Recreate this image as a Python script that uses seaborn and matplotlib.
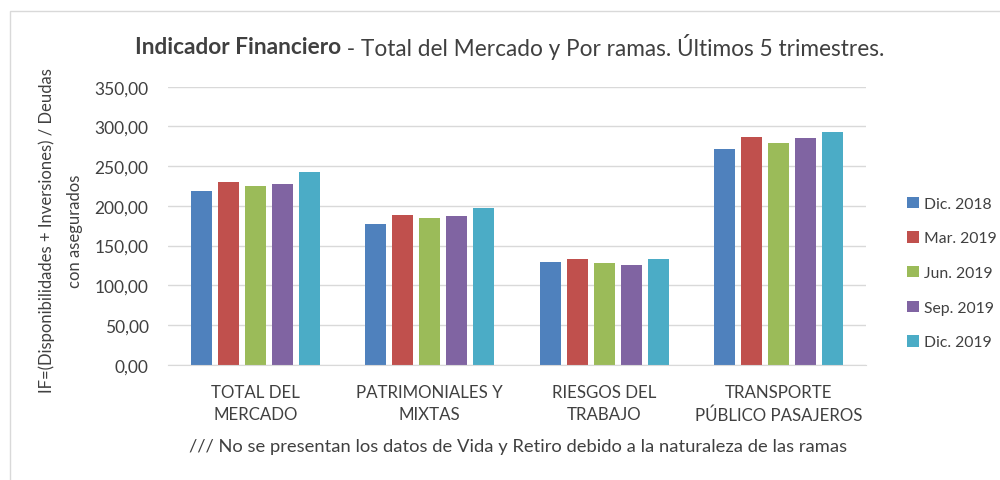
import pandas as pd
import seaborn as sns
from matplotlib import pyplot as plt
from matplotlib.patches import Rectangle

# data
ramas = ['TOTAL DEL\nMERCADO', 'PATRIMONIALES Y\nMIXTAS', 'RIESGOS DEL\nTRABAJO', 'TRANSPORTE\nPÚBLICO PASAJEROS']
trimestres = ['Dic. 2018', 'Mar. 2019', 'Jun. 2019', 'Sep. 2019', 'Dic. 2019']
dic_2018 = [218.5, 177.5, 129.3, 271.8]
mar_2019 = [230.4, 188.0, 133.6, 286.5]
jun_2019 = [225.6, 185.0, 128.2, 279.5]
sep_2019 = [227.9, 187.0, 125.3, 285.6]
dic_2019 = [242.5, 197.2, 132.8, 292.5]
colores = ['#4F81BD', '#C0504D', '#9BBB59', '#8064A2', '#4BACC6']

series = [dic_2018, mar_2019, jun_2019, sep_2019, dic_2019]
rows = []
for trim, vals in zip(trimestres, series):
    for rama, v in zip(ramas, vals):
        rows.append({'rama': rama, 'trimestre': trim, 'valor': v})
df = pd.DataFrame(rows)

sns.set_style('white')
plt.rcParams['font.family'] = ['Lato', 'DejaVu Sans']
txt = '#404040'

fig = plt.figure(figsize=(10, 4.81), dpi=100)
ax = fig.add_axes([0.168, 1 - 365.7 / 481, 0.698, (365.7 - 87.7) / 481])

sns.barplot(data=df, x='rama', y='valor', hue='trimestre', hue_order=trimestres,
            order=ramas, palette=colores, width=0.774, gap=0.22, ax=ax,
            saturation=1, linewidth=0)

ax.set_ylim(0, 350)
ax.set_yticks(range(0, 351, 50))
ax.set_yticklabels([f'{v:.2f}'.replace('.', ',') for v in range(0, 351, 50)],
                   fontsize=12.5, color=txt)
ax.tick_params(axis='x', labelsize=12.2, labelcolor=txt, length=0, pad=14)
ax.tick_params(axis='y', length=0, pad=14)
for lbl in ax.get_xticklabels():
    lbl.set_linespacing(1.45)
ax.yaxis.grid(True, color='#d9d9d9', lw=1)
ax.set_axisbelow(True)
for s in ['top', 'right', 'left']:
    ax.spines[s].set_visible(False)
ax.spines['bottom'].set_color('#d9d9d9')
ax.set_xlabel('')
ax.set_ylabel('')

ax.legend(loc='center left', bbox_to_anchor=(893 / 1000, 1 - 274 / 481),
          bbox_transform=fig.transFigure, frameon=False, fontsize=11.3,
          handlelength=0.75, handleheight=0.75, handletextpad=0.3,
          labelspacing=1.3, labelcolor=txt)

# y label in two lines
fig.text(47 / 1000, 1 - 231 / 481, 'IF=(Disponibilidades + Inversiones) / Deudas',
         rotation=90, ha='center', va='center', fontsize=12, color=txt)
fig.text(75 / 1000, 1 - 231 / 481, 'con asegurados',
         rotation=90, ha='center', va='center', fontsize=12, color=txt)

# title: bold part then regular part
t1 = fig.text(135 / 1000, 1 - 47 / 481, 'Indicador Financiero', fontsize=16.3,
              fontweight='bold', color=txt, va='center', ha='left')
fig.canvas.draw()
bb = t1.get_window_extent()
fig.text(bb.x1 / 1000, 1 - 47 / 481, ' - Total del Mercado y Por ramas. Últimos 5 trimestres.',
         fontsize=16.3, color=txt, va='center', ha='left')

fig.text(518 / 1000, 1 - 447 / 481,
         '/// No se presentan los datos de Vida y Retiro debido a la naturaleza de las ramas',
         fontsize=13.2, color=txt, ha='center', va='center')

# chart area border
fig.patches.append(Rectangle((10 / 1000, -0.1), 1.2, 1 - 12 / 481 + 0.1,
                             transform=fig.transFigure, fill=False,
                             edgecolor='#d9d9d9', lw=1))

fig.savefig('out.png', dpi=100)
